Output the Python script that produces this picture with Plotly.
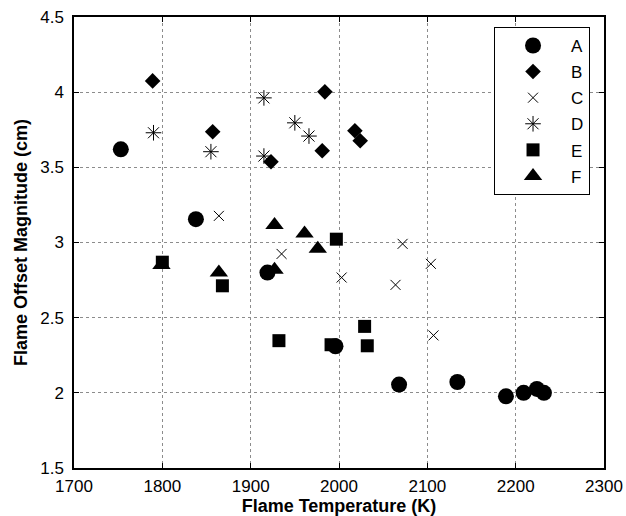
import plotly.graph_objects as go

# Flame temperature (K) and flame offset magnitude (cm) for each case
a_temp = [1753, 1838, 1919, 1996, 2068, 2134, 2189, 2209, 2224, 2232]
a_offset = [3.62, 3.155, 2.80, 2.31, 2.055, 2.072, 1.977, 2.00, 2.026, 2.00]

b_temp = [1789, 1857, 1923, 1984, 1981, 2018, 2024]
b_offset = [4.075, 3.737, 3.537, 4.002, 3.61, 3.743, 3.677]

c_temp = [1864, 1935, 2003, 2064, 2072, 2104, 2107]
c_offset = [3.177, 2.924, 2.767, 2.718, 2.991, 2.858, 2.382]

d_temp = [1790, 1855, 1915, 1915, 1950, 1966]
d_offset = [3.73, 3.604, 3.962, 3.575, 3.796, 3.708]

e_temp = [1800, 1868, 1932, 1991, 1997, 2029, 2032]
e_offset = [2.869, 2.712, 2.347, 2.32, 3.022, 2.442, 2.313]

f_temp = [1799, 1864, 1927, 1927, 1961, 1976]
f_offset = [2.85, 2.80, 2.818, 3.117, 3.06, 2.958]

series_names = ["A", "B", "C", "D", "E", "F"]
x_ticks = [1700, 1800, 1900, 2000, 2100, 2200, 2300]
y_ticks = [1.5, 2, 2.5, 3, 3.5, 4, 4.5]

FONT = "Liberation Sans, Arial, sans-serif"

styles = [
    dict(symbol="circle", size=16, color="black"),
    dict(symbol="diamond", size=12, color="black"),
    dict(symbol="x-thin-open", size=10, color="black", line=dict(width=1, color="black")),
    dict(symbol="asterisk-open", size=13, color="black", line=dict(width=1, color="black")),
    dict(symbol="square", size=13, color="black"),
    dict(symbol="triangle-up", size=16, color="black"),
]

data = [
    (a_temp, a_offset),
    (b_temp, b_offset),
    (c_temp, c_offset),
    (d_temp, d_offset),
    (e_temp, e_offset),
    (f_temp, f_offset),
]

fig = go.Figure()
for name, (xs, ys), mk in zip(series_names, data, styles):
    fig.add_trace(go.Scatter(
        x=xs, y=ys, mode="markers", name=name, marker=mk,
        legendgroup=name,
    ))

axis_common = dict(
    showline=True, linecolor="black", linewidth=1.5, mirror="ticks",
    ticks="inside", ticklen=5, tickcolor="black", tickwidth=1,
    showgrid=True, gridcolor="#8c8c8c", griddash="dot", gridwidth=1,
    zeroline=False,
    tickfont=dict(family=FONT, size=17, color="black"),
)

fig.update_xaxes(
    range=[1700, 2300], tickvals=x_ticks,
    ticktext=[str(v) for v in x_ticks],
    ticklabelstandoff=2,
    title=dict(text="<b>Flame Temperature (K)</b>",
               font=dict(family=FONT, size=18, color="black"), standoff=5),
    **axis_common,
)
fig.update_yaxes(
    range=[1.5, 4.5], tickvals=y_ticks,
    ticktext=[f"{v:g}" for v in y_ticks],
    ticklabelstandoff=5,
    title=dict(text="<b>Flame Offset Magnitude (cm)</b>",
               font=dict(family=FONT, size=18, color="black"), standoff=8),
    **axis_common,
)

fig.update_layout(
    width=626, height=516,
    margin=dict(l=74, r=22, t=17, b=48, autoexpand=False),
    paper_bgcolor="white", plot_bgcolor="white",
    font=dict(family=FONT, color="black"),
    legend=dict(
        x=0.7925, y=0.978, xanchor="left", yanchor="top",
        bgcolor="white", bordercolor="black", borderwidth=1,
        font=dict(family=FONT, size=17, color="black"),
        itemwidth=66, tracegroupgap=1,
    ),
    showlegend=True,
)

fig.write_html("out.html")
